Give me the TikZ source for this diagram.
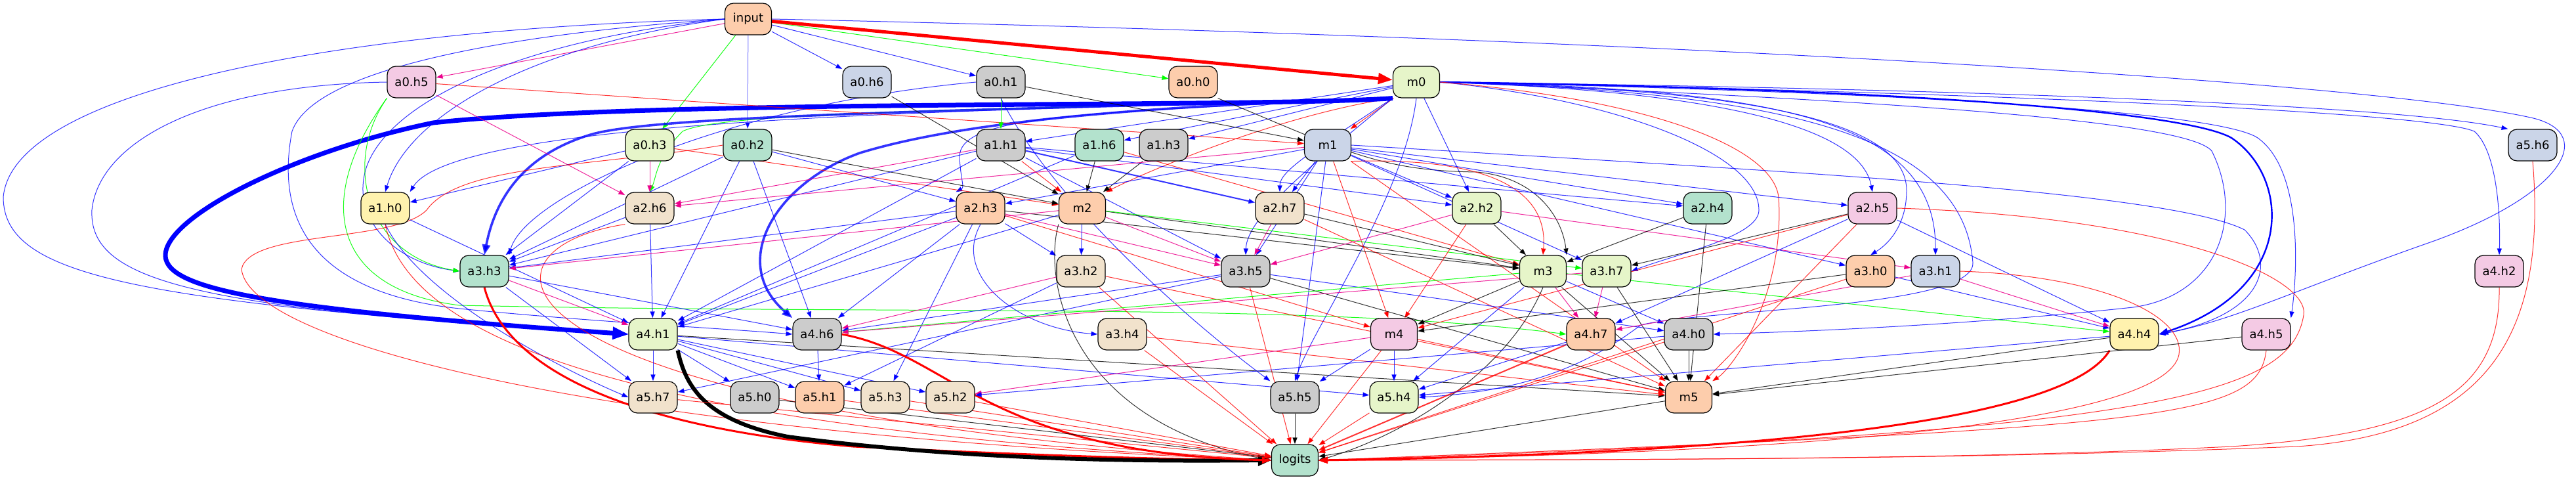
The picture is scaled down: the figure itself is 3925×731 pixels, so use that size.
\documentclass[tikz,border=0pt]{standalone}
\usepackage{fontspec}
\setmainfont{DejaVu Sans}
\usetikzlibrary{arrows.meta,backgrounds}

\definecolor{cmint}{HTML}{B3E2CD}
\definecolor{cpeach}{HTML}{FDCDAC}
\definecolor{cblue}{HTML}{CBD5E8}
\definecolor{cpink}{HTML}{F4CAE4}
\definecolor{cgreen}{HTML}{E6F5C9}
\definecolor{cyellow}{HTML}{FFF2AE}
\definecolor{cbeige}{HTML}{F1E2CC}
\definecolor{cgray}{HTML}{CCCCCC}

\tikzset{
    headbox/.style={rectangle, draw, rounded corners=6.5pt, line width=0.6pt,
        minimum width=37pt, minimum height=24pt, inner sep=1pt,
        font=\fontsize{9}{11}\selectfont},
    mlpbox/.style={headbox, minimum width=35.5pt},
    wire/.style={line width=0.5pt, -{Triangle[length=5pt,width=3.6pt]}},
    blueedge/.style={wire, draw=blue, draw opacity=0.8},
    rededge/.style={wire, draw=red, draw opacity=0.8},
    greenedge/.style={wire, draw=green, draw opacity=0.9},
    pinkedge/.style={wire, draw=magenta, draw opacity=0.85},
    blackedge/.style={wire, draw=black, draw opacity=0.8},
}

\begin{document}
\begin{tikzpicture}[x=0.5pt, y=-0.5pt]
    \path[use as bounding box] (0,0) rectangle (3925,731);

    % input and layer 0
    \node[mlpbox, fill=cpeach] (input) at (1140,29) {input};
    \node[headbox, fill=cpink] (a0h5) at (627,125) {a0.h5};
    \node[headbox, fill=cblue] (a0h6) at (1321,125) {a0.h6};
    \node[headbox, fill=cgray] (a0h1) at (1525,125) {a0.h1};
    \node[headbox, fill=cpeach] (a0h0) at (1818,125) {a0.h0};
    \node[mlpbox, fill=cgreen] (m0) at (2158,125) {m0};

    % layer 1
    \node[headbox, fill=cgreen] (a0h3) at (990,221) {a0.h3};
    \node[headbox, fill=cmint] (a0h2) at (1139,221) {a0.h2};
    \node[headbox, fill=cgray] (a1h1) at (1525,221) {a1.h1};
    \node[headbox, fill=cmint] (a1h6) at (1675,221) {a1.h6};
    \node[headbox, fill=cgray] (a1h3) at (1773,221) {a1.h3};
    \node[mlpbox, fill=cblue] (m1) at (2023,221) {m1};
    \node[headbox, fill=cblue] (a5h6) at (3859,221) {a5.h6};

    % layer 2
    \node[headbox, fill=cyellow] (a1h0) at (587,317) {a1.h0};
    \node[headbox, fill=cbeige] (a2h6) at (990,317) {a2.h6};
    \node[headbox, fill=cpeach] (a2h3) at (1494,317) {a2.h3};
    \node[mlpbox, fill=cpeach] (m2) at (1649,317) {m2};
    \node[headbox, fill=cbeige] (a2h7) at (1950,317) {a2.h7};
    \node[headbox, fill=cgreen] (a2h2) at (2250,317) {a2.h2};
    \node[headbox, fill=cmint] (a2h4) at (2602,317) {a2.h4};
    \node[headbox, fill=cpink] (a2h5) at (2853,317) {a2.h5};

    % layer 3
    \node[headbox, fill=cmint] (a3h3) at (738,413) {a3.h3};
    \node[headbox, fill=cbeige] (a3h2) at (1647,413) {a3.h2};
    \node[headbox, fill=cgray] (a3h5) at (1898,413) {a3.h5};
    \node[mlpbox, fill=cgreen] (m3) at (2351,413) {m3};
    \node[headbox, fill=cgreen] (a3h7) at (2448,413) {a3.h7};
    \node[headbox, fill=cpeach] (a3h0) at (2850,413) {a3.h0};
    \node[headbox, fill=cblue] (a3h1) at (2949,413) {a3.h1};
    \node[headbox, fill=cpink] (a4h2) at (3808,413) {a4.h2};

    % layer 4
    \node[headbox, fill=cgreen] (a4h1) at (995,509) {a4.h1};
    \node[headbox, fill=cgray] (a4h6) at (1245,509) {a4.h6};
    \node[headbox, fill=cbeige] (a3h4) at (1710,509) {a3.h4};
    \node[mlpbox, fill=cpink] (m4) at (2124,509) {m4};
    \node[headbox, fill=cpeach] (a4h7) at (2424,509) {a4.h7};
    \node[headbox, fill=cgray] (a4h0) at (2573,509) {a4.h0};
    \node[headbox, fill=cyellow] (a4h4) at (3252,509) {a4.h4};
    \node[headbox, fill=cpink] (a4h5) at (3453,509) {a4.h5};

    % layer 5
    \node[headbox, fill=cbeige] (a5h7) at (995,605) {a5.h7};
    \node[headbox, fill=cgray] (a5h0) at (1150,605) {a5.h0};
    \node[headbox, fill=cpeach] (a5h1) at (1249,605) {a5.h1};
    \node[headbox, fill=cbeige] (a5h3) at (1349,605) {a5.h3};
    \node[headbox, fill=cbeige] (a5h2) at (1448,605) {a5.h2};
    \node[headbox, fill=cgray] (a5h5) at (1973,605) {a5.h5};
    \node[headbox, fill=cgreen] (a5h4) at (2124,605) {a5.h4};
    \node[mlpbox, fill=cpeach] (m5) at (2573,605) {m5};

    % output
    \node[mlpbox, fill=cmint] (logits) at (1973,701) {logits};

    \begin{scope}[on background layer]
        \fill[white] (0,0) rectangle (3925,731);

        % edges out of input
        \draw[pinkedge] (input) -- (a0h5);
        \draw[blueedge] (input) -- (a0h6);
        \draw[blueedge] (input) -- (a0h1);
        \draw[greenedge] (input) -- (a0h0);
        \draw[greenedge] (input) -- (a0h3);
        \draw[blueedge, draw opacity=0.5] (input) -- (a0h2);
        \draw[rededge, draw opacity=1, line width=2.5pt, -{Triangle[length=11pt,width=8pt]}] (input) -- (m0);
        \draw[blueedge] (input.west) .. controls (800,70) and (620,180) .. (a1h0.north);
        \draw[blueedge] (input.west) .. controls (800,60) and (600,150) .. (560,250) .. controls (530,330) and (600,400) .. (a3h3.west);
        \draw[blueedge] (input.west) .. controls (500,45) and (20,140) .. (5,300) .. controls (5,420) and (200,460) .. (a4h1.west);
        \draw[blueedge] (input.west) .. controls (800,50) and (480,100) .. (445,200) .. controls (420,330) and (470,445) .. (700,470) .. controls (900,490) and (1100,500) .. (a4h6.west);
        \draw[blueedge] (input.east) .. controls (2400,55) and (3600,120) .. (3860,180) .. controls (3960,205) and (3900,300) .. (3700,370) .. controls (3500,440) and (3400,490) .. (a4h4.east);

        % edges out of m0
        \draw[blueedge] (m0) -- (a1h1);
        \draw[blueedge] (m0) -- (a1h6);
        \draw[blueedge] (m0) -- (a1h3);
        \draw[rededge] (m0) -- (m1);
        \draw[blueedge] (m0) -- (a2h2);
        \draw[blueedge] (m0.south west) .. controls (1600,168) and (700,172) .. (a1h0.north east);
        \draw[greenedge] (m0.south west) .. controls (1500,168) and (1100,170) .. (1040,200) .. controls (1000,240) and (1000,270) .. (a2h6.north);
        \draw[blueedge] (m0.south west) .. controls (1650,172) and (1460,175) .. (1462,240) .. controls (1464,275) and (1470,285) .. (a2h3.north west);
        \draw[rededge] (m0.south west) .. controls (1950,175) and (1750,260) .. (m2.north east);
        \draw[blueedge] (m0.south west) .. controls (2000,230) and (1950,260) .. (a2h7.north);
        \draw[blueedge] (m0.south west) .. controls (2000,250) and (1900,330) .. (a3h5.north);
        \draw[blueedge] (m0.south) .. controls (2140,300) and (2000,500) .. (a5h5.north);
        \draw[blueedge, line width=1.8pt, -{Triangle[length=8pt,width=6pt]}] (m0.south west) .. controls (1500,168) and (1000,175) .. (900,205) .. controls (800,235) and (755,300) .. (a3h3.north);
        \draw[blueedge, line width=1.8pt, -{Triangle[length=8pt,width=6pt]}] (m0.south west) .. controls (1700,162) and (1450,190) .. (1310,233) .. controls (1180,280) and (1110,400) .. (a4h6.north west);
        \draw[blueedge, draw opacity=1, line width=3.5pt, -{Triangle[length=12pt,width=9pt]}] (m0.south west) .. controls (1900,165) and (1000,150) .. (660,187) .. controls (450,230) and (250,330) .. (252,390) .. controls (255,440) and (400,470) .. (a4h1.west);
        \draw[blueedge] (m0.east) .. controls (2500,135) and (2830,170) .. (a2h5.north);
        \draw[blueedge] (m0.east) .. controls (2450,150) and (2680,230) .. (2680,320) .. controls (2680,360) and (2560,385) .. (a3h7.east);
        \draw[blueedge] (m0.east) .. controls (2600,135) and (2905,170) .. (2905,290) .. controls (2905,340) and (2880,370) .. (a3h0.north);
        \draw[blueedge] (m0.east) .. controls (2700,135) and (2950,180) .. (a3h1.north);
        \draw[blueedge] (m0.east) .. controls (3000,135) and (3650,160) .. (a5h6.north west);
        \draw[blueedge] (m0.east) .. controls (3000,140) and (3700,170) .. (3770,200) .. controls (3805,230) and (3810,330) .. (a4h2.north);
        \draw[blueedge] (m0.east) .. controls (2900,140) and (3380,170) .. (3440,210) .. controls (3510,260) and (3500,420) .. (a4h5.north east);
        \draw[blueedge, draw opacity=1, line width=1.2pt, -{Triangle[length=7pt,width=5pt]}] (m0.east) .. controls (2900,135) and (3330,170) .. (3400,210) .. controls (3490,270) and (3500,440) .. (a4h4.east);
        \draw[blueedge] (m0.east) .. controls (2800,150) and (3330,180) .. (3370,230) .. controls (3420,330) and (3380,450) .. (3250,468) .. controls (3000,495) and (2750,505) .. (a4h0.east);
        \draw[blueedge] (m0.east) .. controls (2700,140) and (2990,200) .. (3006,400) .. controls (3010,470) and (2600,470) .. (2500,495) .. controls (2440,540) and (2350,595) .. (a5h4.east);
        \draw[rededge] (m0.east) .. controls (2500,150) and (2700,220) .. (2710,300) .. controls (2720,450) and (2640,560) .. (m5.north east);

        % layer 0 heads
        \draw[rededge] (a0h5) -- (m1);
        \draw[pinkedge] (a0h5) -- (a2h6);
        \draw[greenedge] (a0h5.south west) .. controls (520,250) and (560,390) .. (a3h3.west);
        \draw[greenedge] (a0h5.south west) .. controls (480,300) and (500,440) .. (700,465) .. controls (1400,480) and (2000,460) .. (a4h7.west);
        \draw[blueedge] (a0h5.west) .. controls (300,130) and (150,220) .. (140,320) .. controls (135,430) and (300,470) .. (a4h1.west);
        \draw[blackedge] (a0h6) -- (m2);
        \draw[greenedge] (a0h1) -- (a1h1);
        \draw[blackedge] (a0h1) -- (m1);
        \draw[blueedge] (a0h1.west) .. controls (1100,160) and (800,300) .. (a3h3.north east);
        \draw[blueedge] (a0h1.south) .. controls (1600,300) and (1800,480) .. (a5h5.north west);
        \draw[blackedge] (a0h0.south east) .. controls (2050,230) and (2100,260) .. (2250,262) .. controls (2340,270) and (2380,330) .. (m3.north east);
        \draw[blueedge] (a0h3) -- (a1h0);
        \draw[pinkedge] (a0h3) -- (a2h6);
        \draw[rededge] (a0h3) -- (m2);
        \draw[blueedge] (a0h3) -- (a3h3);
        \draw[blueedge] (a0h2) -- (a2h3);
        \draw[blackedge] (a0h2) -- (m2);
        \draw[blueedge] (a0h2) -- (a3h3);
        \draw[blueedge] (a0h2) -- (a4h1);
        \draw[blueedge] (a0h2) -- (a4h6);
        \draw[rededge] (a0h2.west) .. controls (900,255) and (700,250) .. (650,320) .. controls (600,370) and (380,350) .. (368,410) .. controls (380,520) and (900,660) .. (logits.west);

        % layer 1 heads
        \draw[pinkedge] (a1h1) -- (a2h6);
        \draw[rededge] (a1h1) -- (m2);
        \draw[blueedge, line width=1pt] (a1h1) -- (a2h7);
        \draw[blueedge] (a1h1) -- (a2h2);
        \draw[blueedge] (a1h1) -- (a2h4);
        \draw[blueedge] (a1h1) -- (a3h3);
        \draw[blueedge] (a1h1) -- (a3h5);
        \draw[blueedge] (a1h1) -- (a4h1);
        \draw[blackedge] (a1h6) -- (m2);
        \draw[rededge] (a1h6) -- (m3);
        \draw[blueedge] (a1h6) -- (a4h1);
        \draw[blackedge] (a1h3) -- (m2);
        \draw[pinkedge] (m1) -- (a2h6);
        \draw[blueedge] (m1) -- (a2h3);
        \draw[blueedge] (m1) -- (a2h7);
        \draw[blueedge] (m1) -- (a2h2);
        \draw[blueedge] (m1) -- (a2h4);
        \draw[blueedge] (m1) -- (a2h5);
        \draw[blueedge] (m1) -- (a3h5);
        \draw[rededge] (m1.south east) .. controls (2250,240) and (2360,280) .. (m3.north);
        \draw[blueedge] (m1) -- (a3h7);
        \draw[blueedge] (m1) -- (a3h0);
        \draw[rededge] (m1) -- (m4);
        \draw[blueedge] (m1) -- (a5h5);
        \draw[rededge] (m1) -- (m5);
        \draw[blueedge] (m1.east) .. controls (2700,260) and (3300,290) .. (3420,350) .. controls (3470,400) and (3450,480) .. (a4h4.east);
        \draw[rededge] (a5h6.south) .. controls (3880,500) and (3800,660) .. (3500,680) .. controls (3000,700) and (2500,700) .. (logits.east);

        % layer 2 heads
        \draw[blueedge] (a1h0) -- (a4h1);
        \draw[blueedge] (a1h0.south) .. controls (640,450) and (850,560) .. (a5h7.west);
        \draw[rededge] (a1h0.south) .. controls (620,500) and (900,650) .. (logits.west);
        \draw[blueedge] (a2h6) -- (a3h3);
        \draw[blueedge] (a2h6) -- (a4h1);
        \draw[rededge] (a2h6.south west) .. controls (700,380) and (720,620) .. (logits.west);
        \draw[blueedge] (a2h3) -- (a3h3);
        \draw[blueedge] (a2h3) -- (a3h2);
        \draw[pinkedge] (a2h3) -- (a3h5);
        \draw[blackedge] (a2h3) -- (m3);
        \draw[blueedge] (a2h3) -- (a4h1);
        \draw[blueedge] (a2h3) -- (a4h6);
        \draw[blueedge] (a2h3.south) .. controls (1450,420) and (1550,500) .. (a3h4.west);
        \draw[rededge] (a2h3) -- (m4);
        \draw[blueedge] (a2h3) -- (a5h3);
        \draw[pinkedge] (m2) -- (a3h3);
        \draw[blueedge] (m2) -- (a3h2);
        \draw[pinkedge] (m2) -- (a3h5);
        \draw[blackedge] (m2) -- (m3);
        \draw[greenedge] (m2) -- (a3h7);
        \draw[blueedge] (m2) -- (a4h1);
        \draw[blackedge] (m2.south west) .. controls (1590,420) and (1620,640) .. (logits.west);
        \draw[pinkedge] (a2h7) -- (a3h5);
        \draw[blackedge] (a2h7) -- (m3);
        \draw[rededge] (a2h7) -- (m5);
        \draw[pinkedge] (a2h2) -- (a3h5);
        \draw[blackedge] (a2h2) -- (m3);
        \draw[pinkedge] (a2h2) -- (a3h1);
        \draw[rededge] (a2h2) -- (m4);
        \draw[blackedge] (a2h4) -- (m3);
        \draw[blackedge] (a2h4) -- (m5);
        \draw[blackedge] (a2h5) -- (a3h7);
        \draw[rededge] (a2h5) -- (m4);
        \draw[blueedge] (a2h5) -- (a4h7);
        \draw[rededge] (a2h5) -- (m5);
        \draw[blueedge] (a2h5) -- (a4h4);
        \draw[rededge] (a2h5.east) .. controls (3300,330) and (3520,420) .. (3510,480) .. controls (3490,600) and (3300,660) .. (logits.east);

        % layer 3 heads
        \draw[pinkedge] (a3h3) -- (a4h1);
        \draw[blueedge] (a3h3) -- (a4h6);
        \draw[blueedge] (a3h3) -- (a5h7);
        \draw[rededge, draw opacity=1, line width=1.5pt, -{Triangle[length=7pt,width=5pt]}] (a3h3.south) .. controls (770,560) and (950,650) .. (1300,680) .. controls (1600,695) and (1800,700) .. (logits.west);
        \draw[pinkedge] (a3h2) -- (a4h6);
        \draw[blueedge] (a3h2) -- (a5h1);
        \draw[rededge] (a3h2) -- (m5);
        \draw[rededge] (a3h2) -- (logits);
        \draw[blueedge] (a3h5) -- (a4h6);
        \draw[blueedge] (a3h5) -- (a4h0);
        \draw[blueedge] (a3h5) -- (a5h7);
        \draw[blackedge] (a3h5) -- (m5);
        \draw[rededge] (a3h5) -- (logits);
        \draw[greenedge] (m3) -- (a4h6);
        \draw[blackedge] (m3) -- (m4);
        \draw[pinkedge] (m3) -- (a4h7);
        \draw[blueedge] (m3) -- (a4h0);
        \draw[greenedge] (m3) -- (a4h4);
        \draw[blueedge] (m3) -- (a5h4);
        \draw[blackedge] (m3) -- (m5);
        \draw[blackedge] (m3.south) .. controls (2300,560) and (2150,660) .. (logits.east);
        \draw[pinkedge] (a3h7) -- (a4h6);
        \draw[pinkedge] (a3h7) -- (a4h7);
        \draw[blackedge] (a3h7) -- (m5);
        \draw[blackedge] (a3h0) -- (m4);
        \draw[blueedge] (a3h0) -- (a4h4);
        \draw[rededge] (a3h0) -- (logits);
        \draw[pinkedge] (a3h1) -- (a4h7);
        \draw[pinkedge] (a3h1) -- (a4h4);
        \draw[rededge] (a3h1.east) .. controls (3200,420) and (3330,480) .. (3320,540) .. controls (3300,640) and (2800,690) .. (logits.east);
        \draw[rededge] (a4h2.south) .. controls (3810,600) and (3700,660) .. (3400,680) .. controls (3000,700) and (2500,700) .. (logits.east);

        % layer 4 heads
        \draw[blueedge] (a4h1) -- (a5h7);
        \draw[blueedge] (a4h1) -- (a5h0);
        \draw[blueedge] (a4h1) -- (a5h1);
        \draw[blueedge] (a4h1) -- (a5h3);
        \draw[blueedge] (a4h1) -- (a5h2);
        \draw[blueedge] (a4h1) -- (a5h4);
        \draw[blackedge] (a4h1) -- (m5);
        \draw[blackedge, draw opacity=1, line width=3pt, -{Triangle[length=10pt,width=8pt]}] (a4h1.south east) .. controls (1045,590) and (1075,640) .. (1200,665) .. controls (1500,705) and (1800,702) .. (logits.west);
        \draw[blueedge] (a4h6) -- (a5h1);
        \draw[rededge, draw opacity=1, line width=1.5pt, -{Triangle[length=7pt,width=5pt]}] (a4h6.east) .. controls (1450,540) and (1500,690) .. (logits.west);
        \draw[rededge] (a3h4) -- (m5);
        \draw[rededge] (a3h4) -- (logits);
        \draw[pinkedge] (m4) -- (a5h2);
        \draw[blueedge] (m4) -- (a5h5);
        \draw[blueedge] (m4) -- (a5h4);
        \draw[rededge] (m4) -- (m5);
        \draw[rededge] (m4) -- (logits);
        \draw[blueedge] (a4h7) -- (a5h4);
        \draw[rededge, line width=1pt] (a4h7) -- (logits);
        \draw[blueedge] (a4h0) -- (a5h2);
        \draw[blackedge] (a4h0) -- (m5);
        \draw[rededge] (a4h0) -- (logits);
        \draw[blueedge] (a4h4) -- (a5h4);
        \draw[blackedge] (a4h4) -- (m5);
        \draw[rededge, draw opacity=1, line width=1.5pt, -{Triangle[length=7pt,width=5pt]}] (a4h4.south west) .. controls (3150,640) and (2700,690) .. (logits.east);
        \draw[blackedge] (a4h5) -- (m5);
        \draw[rededge] (a4h5.south) .. controls (3440,640) and (3300,650) .. (logits.east);

        % layer 5 heads
        \draw[rededge] (a5h7) -- (logits);
        \draw[blackedge] (a5h0) -- (logits);
        \draw[rededge] (a5h1) -- (logits);
        \draw[rededge] (a5h3) -- (logits);
        \draw[rededge] (a5h2) -- (logits);
        \draw[blackedge] (a5h5) -- (logits);
        \draw[rededge] (a5h4) -- (logits);
        \draw[blackedge] (m5) -- (logits);
    \end{scope}
\end{tikzpicture}
\end{document}
